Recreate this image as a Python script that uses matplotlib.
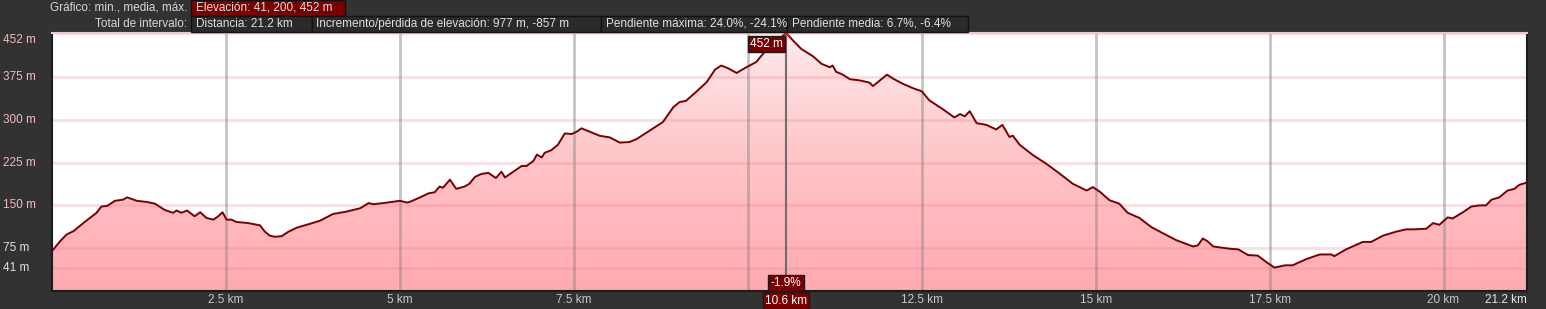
import matplotlib
matplotlib.use('Agg')
import matplotlib.pyplot as plt
import numpy as np
from matplotlib.colors import LinearSegmentedColormap
from matplotlib.patches import Polygon, Rectangle
from matplotlib.transforms import blended_transform_factory

# elevation profile (km, m)
dist_km = [0.0, 0.115, 0.21, 0.31, 0.45, 0.64, 0.71, 0.79, 0.905, 1.02, 1.08, 1.22, 1.36, 1.48,
           1.62, 1.74, 1.79, 1.86, 1.94, 2.05, 2.13, 2.22, 2.32, 2.39, 2.45, 2.51, 2.58, 2.65,
           2.82, 2.99, 3.06, 3.13, 3.2, 3.3, 3.4, 3.52, 3.66, 3.85, 4.04, 4.23, 4.43, 4.55,
           4.62, 4.76, 4.88, 5.0, 5.1, 5.14, 5.29, 5.41, 5.5, 5.57, 5.62, 5.72, 5.81, 5.93,
           6.0, 6.08, 6.17, 6.27, 6.38, 6.46, 6.51, 6.63, 6.75, 6.82, 6.92, 6.97, 7.04, 7.08,
           7.18, 7.27, 7.37, 7.47, 7.54, 7.61, 7.73, 7.87, 8.02, 8.16, 8.3, 8.4, 8.59, 8.78,
           8.93, 9.02, 9.11, 9.26, 9.41, 9.53, 9.62, 9.72, 9.84, 9.98, 10.12, 10.27, 10.42,
           10.55, 10.65, 10.77, 10.94, 11.06, 11.18, 11.22, 11.27, 11.35, 11.47, 11.61, 11.75,
           11.8, 11.9, 12.0, 12.09, 12.23, 12.38, 12.5, 12.61, 12.81, 12.97, 13.05, 13.12,
           13.19, 13.29, 13.43, 13.57, 13.66, 13.76, 13.81, 13.91, 14.1, 14.29, 14.48, 14.67,
           14.87, 14.96, 15.06, 15.2, 15.34, 15.46, 15.63, 15.8, 15.97, 16.16, 16.4, 16.47,
           16.54, 16.61, 16.69, 16.93, 17.05, 17.19, 17.33, 17.45, 17.57, 17.72, 17.83, 18.03,
           18.22, 18.39, 18.43, 18.6, 18.84, 18.96, 19.13, 19.32, 19.46, 19.56, 19.75, 19.85,
           19.94, 20.06, 20.13, 20.28, 20.4, 20.52, 20.61, 20.69, 20.8, 20.92, 21.02, 21.09,
           21.2]
elev_m = [70, 87, 99, 105, 119, 137, 148, 149, 158, 160, 164, 158, 156, 153,
          142, 137, 141, 137, 141, 131, 138, 128, 125, 131, 138, 125, 125, 121,
          119, 115, 104, 97, 95, 96, 104, 111, 116, 123, 135, 139, 145, 154,
          152, 154, 156, 158, 155, 156, 164, 171, 173, 183, 181, 195, 179, 183,
          188, 200, 205, 207, 198, 209, 199, 209, 219, 219, 228, 239, 234, 242,
          247, 256, 276, 275, 279, 285, 279, 272, 269, 260, 261, 266, 281, 296,
          322, 331, 333, 349, 366, 388, 395, 390, 382, 392, 401, 423, 438,
          452, 439, 424, 411, 398, 392, 395, 384, 380, 371, 369, 365,
          359, 369, 379, 372, 363, 355, 350, 334, 318, 304, 310, 306,
          315, 294, 291, 283, 291, 270, 272, 256, 238, 223, 206, 188,
          176, 182, 174, 159, 153, 137, 128, 112, 101, 89, 78, 80,
          92, 87, 78, 74, 73, 63, 62, 51, 41, 45, 45, 56,
          64, 64, 61, 73, 86, 86, 97, 104, 108, 108, 109, 119,
          116, 129, 127, 138, 148, 150, 150, 160, 164, 176, 179, 186,
          190]

y_ticks = [41, 75, 150, 225, 300, 375, 452]
x_ticks = [2.5, 5, 7.5, 10, 12.5, 15, 17.5, 20]
x_tick_labels = ['2.5 km', '5 km', '7.5 km', '', '12.5 km', '15 km', '17.5 km', '20 km']
cursor_km = 10.55
cursor_label = '10.6 km'
cursor_slope = '-1.9%'
peak_label = '452 m'

header_row1 = [('Elevación: 41, 200, 452 m', 190.5, 345)]
header_row2 = [('Distancia: 21.2 km', 190.5, 311.5),
               ('Incremento/pérdida de elevación: 977 m, -857 m', 311.5, 600.5),
               ('Pendiente máxima: 24.0%, -24.1%', 600.5, 787.3),
               ('Pendiente media: 6.7%, -6.4%', 787.3, 968.3)]

W, H = 1546, 309
BG = '#323232'
FONT = 'Liberation Sans'

fig = plt.figure(figsize=(W / 100, H / 100), dpi=100, facecolor=BG)
ax = fig.add_axes([52 / W, 18 / H, (1527 - 52) / W, (291 - 33) / H])
ax.set_facecolor('white')
ax.set_xlim(0, 21.2)
ax.set_ylim(0, 452)

# gradient fill under the profile
cmap = LinearSegmentedColormap.from_list('pinkfill', ['#ffaab0', '#ffc4c7', '#fdeaec'])
grad = np.linspace(0, 1, 256).reshape(-1, 1)
img = ax.imshow(grad, extent=[0, 21.2, 0, 452], origin='lower', aspect='auto',
                cmap=cmap, zorder=1, interpolation='bilinear')
verts = [(dist_km[0], 0)] + list(zip(dist_km, elev_m)) + [(dist_km[-1], 0)]
poly = Polygon(verts, closed=True, facecolor='none', edgecolor='none')
ax.add_patch(poly)
img.set_clip_path(poly)

for yv in y_ticks:
    ax.axhline(yv, color='#e8808c', alpha=0.25, lw=2, zorder=2)
for xv in x_ticks:
    ax.axvline(xv, color='#8a8a8a', alpha=0.5, lw=2, zorder=2)

ax.plot(dist_km, elev_m, color='#7a0000', lw=1.4, zorder=4, solid_joinstyle='round')

# cursor
ax.axvline(cursor_km, color='#6e6e6e', lw=1.5, zorder=3)
ax.plot([cursor_km], [452], marker='x', color='#e02020', ms=5, mew=1.3, zorder=5,
        clip_on=False)

ax.set_xticks([])
ax.set_yticks([])
for s in ax.spines.values():
    s.set_color('#1c1c1c')
    s.set_linewidth(1.5)
ax.spines['top'].set_color('#f0c8cc')

# y labels (top one sits a little below its line, as in the original)
ytr = blended_transform_factory(fig.transFigure, ax.transData)
for yv in y_ticks:
    col = '#f2bcbc' if yv >= 150 else '#e6dede'
    ypos = yv - 12 if yv == max(y_ticks) else yv
    fig.text(3 / W, ypos, f'{yv} m', transform=ytr, ha='left', va='center',
             fontsize=8.5, color=col, family=FONT)

# x labels
xtr = blended_transform_factory(ax.transData, fig.transFigure)
for xv, lab in zip(x_ticks, x_tick_labels):
    if lab:
        fig.text(xv, (H - 300) / H, lab, transform=xtr, ha='center', va='center',
                 fontsize=8.5, color='#c8c8c8', family=FONT)
fig.text(1527 / W, (H - 300) / H, '21.2 km', ha='right', va='center',
         fontsize=8.5, color='#e8e8e8', family=FONT)

box_kw = dict(facecolor='#7a0000', edgecolor='#1a1a1a', pad=1.6, linewidth=1)
fig.text(cursor_km, (H - 300.5) / H, cursor_label, transform=xtr, ha='center', va='center',
         fontsize=8.5, color='white', family=FONT, bbox=box_kw)
fig.text(cursor_km, (H - 283) / H, cursor_slope, transform=xtr, ha='center', va='center',
         fontsize=8.5, color='white', family=FONT, bbox=box_kw)
fig.text(783 / W, (H - 44) / H, peak_label, ha='right', va='center',
         fontsize=8.5, color='white', family=FONT, bbox=box_kw)

# header boxes
fig.text(187 / W, (H - 8) / H, 'Gráfico: min., media, máx.', ha='right', va='center',
         fontsize=8.5, color='#d8d8d8', family=FONT)
fig.text(187 / W, (H - 24) / H, 'Total de intervalo:', ha='right', va='center',
         fontsize=8.5, color='#d8d8d8', family=FONT)


def header_box(label, x0, x1, y0, y1, face):
    fig.patches.append(Rectangle((x0 / W, 1 - y1 / H), (x1 - x0) / W, (y1 - y0) / H,
                                 transform=fig.transFigure, facecolor=face,
                                 edgecolor='#121212', lw=1))
    fig.text((x0 + 5) / W, 1 - (y0 + y1) / 2 / H, label, ha='left', va='center',
             fontsize=8.5, color='#e0e0e0', family=FONT)


for lab, x0, x1 in header_row1:
    header_box(lab, x0, x1, 0, 15.7, '#7a0000')
for lab, x0, x1 in header_row2:
    header_box(lab, x0, x1, 15.7, 31.7, '#2a2a2a')

fig.savefig('out.png', dpi=100, facecolor=BG)
